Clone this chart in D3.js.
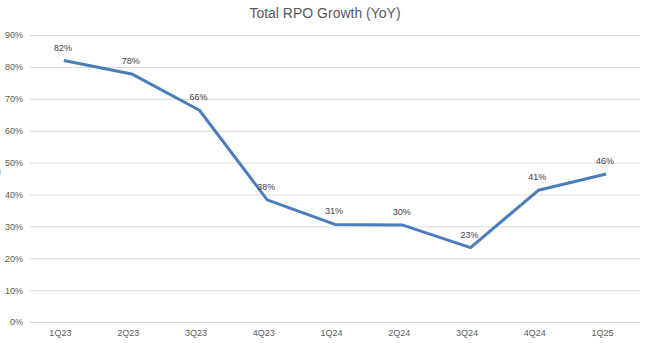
<!DOCTYPE html>
<html>
<head>
<meta charset="utf-8">
<script src="https://cdn.jsdelivr.net/npm/d3@7"></script>
<style>
  body { margin: 0; background: #ffffff; overflow: hidden; }
  svg { display: block; }
  text { font-family: "Liberation Sans", Arial, sans-serif; }
</style>
</head>
<body>
<div id="chart"></div>
<script>
const quarters = ["1Q23", "2Q23", "3Q23", "4Q23", "1Q24", "2Q24", "3Q24", "4Q24", "1Q25"];
const rpoGrowth = [82, 77.8, 66.4, 38.3, 30.6, 30.4, 23.3, 41.3, 46.4];
const yTicks = [0, 10, 20, 30, 40, 50, 60, 70, 80, 90];

const dimensions = {
    width: 648,
    height: 343,
    margin: { top: 35, right: 8, bottom: 21, left: 30 }
};
const innerWidth = dimensions.width - dimensions.margin.left - dimensions.margin.right;
const innerHeight = dimensions.height - dimensions.margin.top - dimensions.margin.bottom;

const wrapper = d3.select("#chart")
    .append("svg")
    .attr("width", dimensions.width)
    .attr("height", dimensions.height)

//title
wrapper.append("text")
    .attr("x", 325)
    .attr("y", 18)
    .attr("text-anchor", "middle")
    .style("font-size", "14px")
    .style("fill", "#595959")
    .text("Total RPO Growth (YoY)")

//axis title remnant at the left edge
wrapper.append("text")
    .attr("x", -3)
    .attr("y", 175)
    .style("font-size", "12px")
    .style("fill", "#595959")
    .text(")")

const bounds = wrapper.append("g")
    .attr("transform", `translate(${dimensions.margin.left},${dimensions.margin.top})`)

const xScale = d3.scalePoint()
    .domain(quarters)
    .range([0, innerWidth])
    .padding(0.5)

const yScale = d3.scaleLinear()
    .domain([0, 90])
    .range([innerHeight, 0])

//gridlines + y labels
const yAxis = d3.axisLeft(yScale)
    .tickValues(yTicks)
    .tickSize(-innerWidth)
    .tickPadding(7)
    .tickFormat(d => d + "%")

bounds.append("g")
    .call(yAxis)
    .call(g => g.select(".domain").remove())
    .call(g => g.selectAll(".tick line").attr("stroke", "#d9d9d9"))
    .call(g => g.selectAll(".tick text")
        .style("font-size", "9px")
        .style("fill", "#595959")
        .style("font-family", "\"Liberation Sans\", Arial, sans-serif"))

//category labels
const xAxis = d3.axisBottom(xScale)
    .tickSize(0)
    .tickPadding(8)

bounds.append("g")
    .attr("transform", `translate(-4,${innerHeight})`)
    .call(xAxis)
    .call(g => g.select(".domain").remove())
    .call(g => g.selectAll(".tick text")
        .style("font-size", "9px")
        .style("fill", "#595959")
        .style("font-family", "\"Liberation Sans\", Arial, sans-serif"))

const points = quarters.map((q, i) => ({ q: q, v: rpoGrowth[i] }));

//growth line
const line = d3.line()
    .x(d => xScale(d.q))
    .y(d => yScale(d.v))

bounds.append("path")
    .datum(points)
    .attr("d", line)
    .attr("fill", "none")
    .attr("stroke", "#4a7ebb")
    .attr("stroke-width", 3)
    .attr("stroke-linejoin", "round")

//value labels
bounds.selectAll(".valueLabel")
    .data(points)
    .enter().append("text")
    .attr("class", "valueLabel")
    .attr("x", d => xScale(d.q) - 1)
    .attr("y", d => yScale(d.v) - 10)
    .attr("text-anchor", "middle")
    .style("font-size", "9px")
    .style("fill", "#404040")
    .text(d => Math.round(d.v) + "%")
</script>
</body>
</html>
